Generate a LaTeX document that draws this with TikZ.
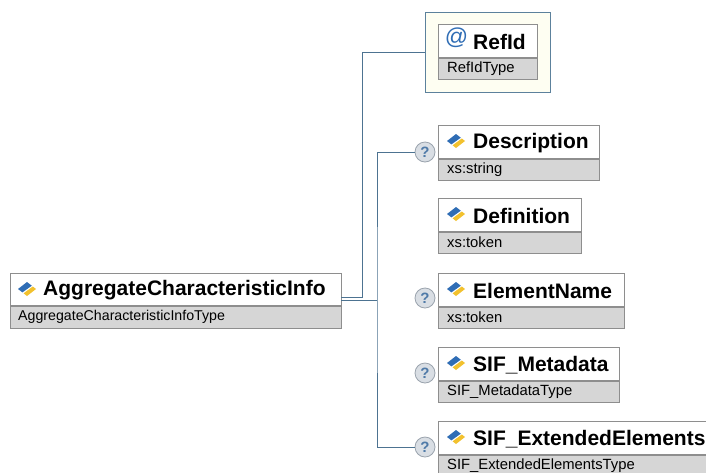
\documentclass[tikz,border=0pt]{standalone}
\usepackage{fontspec}
\setmainfont{Liberation Sans}
\definecolor{conn}{HTML}{4D7391}
\definecolor{boxline}{HTML}{8E8E8E}
\definecolor{typefill}{HTML}{D6D6D6}
\definecolor{attrline}{HTML}{5C819C}
\definecolor{attrfill}{HTML}{FEFEF2}
\definecolor{iconblue}{HTML}{2F6DB5}
\definecolor{iconyellow}{HTML}{F2C12E}
\definecolor{qfill}{HTML}{D9DEE4}
\definecolor{qline}{HTML}{9AA3AD}
\definecolor{qtext}{HTML}{4F7AA8}
\tikzset{
  titlebox/.style={draw=boxline, fill=white, line width=0.8pt, minimum height=33pt, inner sep=0pt, anchor=north west},
  typebox/.style={draw=boxline, fill=typefill, line width=0.8pt, minimum height=21pt, inner sep=0pt, anchor=north west},
  titletext/.style={font=\fontsize{21}{24}\selectfont\bfseries, inner sep=0pt, anchor=west},
  typetext/.style={font=\fontsize{14.8}{16}\selectfont, inner sep=0pt, anchor=west},
  connector/.style={draw=conn, line width=0.9pt},
  optmark/.style={circle, draw=qline, fill=qfill, line width=0.8pt, minimum size=20pt, inner sep=0pt, text=qtext, font=\fontsize{15}{16}\selectfont\bfseries},
  attrbox/.style={draw=attrline, fill=attrfill, line width=1pt, inner sep=0pt, anchor=north west},
}
% \elemicon{x}{y} : element icon centred at x,y
\newcommand\elemicon[2]{%
  \begin{scope}[shift={(#1,#2)}]
    \fill[iconblue] (-9,0) -- (0,-7) -- (4.8,-3.3) -- (-4.6,3.4) -- cycle;
    \fill[iconyellow] (5.8,-2.5) -- (9,0) -- (0,7) -- (-3.4,4.3) -- cycle;
  \end{scope}}
% \elembox{name}{x}{y}{width}{title}{type}
\newcommand\elembox[6]{%
  \node[titlebox, minimum width=#4pt] (#1) at (#2,#3) {};
  \node[typebox, minimum width=#4pt] (#1t) at (#1.south west) {};
  \node[titletext] (#1n) at ([xshift=35pt,yshift=-1.5pt]#1.west) {#5};
  \node[typetext] (#1y) at ([xshift=9pt]#1t.west) {#6};
}
\begin{document}
\begin{tikzpicture}[x=1pt,y=-1pt]
\useasboundingbox (0,0) rectangle (706,472);
\clip (0,0) rectangle (706,472);
\fill[white] (0,0) rectangle (706,472);

% root
\node[titlebox, minimum width=331pt, minimum height=32pt] (root) at (10,273) {};
\node[typebox, minimum width=331pt, minimum height=22pt] (roott) at (root.south west) {};
\node[titletext] (rootn) at ([xshift=33pt,yshift=-1pt]root.west) {AggregateCharacteristicInfo};
\node[typetext, font=\fontsize{14.2}{16}\selectfont] (rooty) at ([xshift=8pt]roott.west) {AggregateCharacteristicInfoType};
\elemicon{27}{289}

% attribute RefId
\node[attrbox, minimum width=125pt, minimum height=80pt] (attr) at (425,12) {};
\elembox{refid}{438}{24}{99}{RefId}{RefIdType}
\node[font=\fontsize{23}{24}\selectfont, text=iconblue, inner sep=0pt, anchor=center] (at) at (456.5,38) {@};

% elements
\elembox{desc}{438}{125}{161}{Description}{xs:string}
\elemicon{456}{141}
\elembox{defn}{438}{198}{143}{Definition}{xs:token}
\elemicon{456}{214}
\elembox{ename}{438}{273}{186}{ElementName}{xs:token}
\elemicon{456}{289}
\elembox{meta}{438}{347}{181}{SIF\_Metadata}{SIF\_MetadataType}
\elemicon{456}{363}
\elembox{ext}{438}{421}{285}{SIF\_ExtendedElements}{SIF\_ExtendedElementsType}
\elemicon{456}{437}

% optional markers
\node[optmark] (q1) at (425,152) {?};
\node[optmark] (q2) at (425,298) {?};
\node[optmark] (q3) at (425,373) {?};
\node[optmark] (q4) at (425,447) {?};

% connectors
\coordinate (ra) at (341,297);
\coordinate (rb) at (341,300);
\coordinate (ja) at (362,297);
\coordinate (jb) at (377,300);
\draw[connector] (ra) -- (ja) |- (attr.west);
\draw[connector] (rb) -- (jb);
\draw[connector] (q1.west) -| (jb) |- (q4.west);
\end{tikzpicture}
\end{document}
